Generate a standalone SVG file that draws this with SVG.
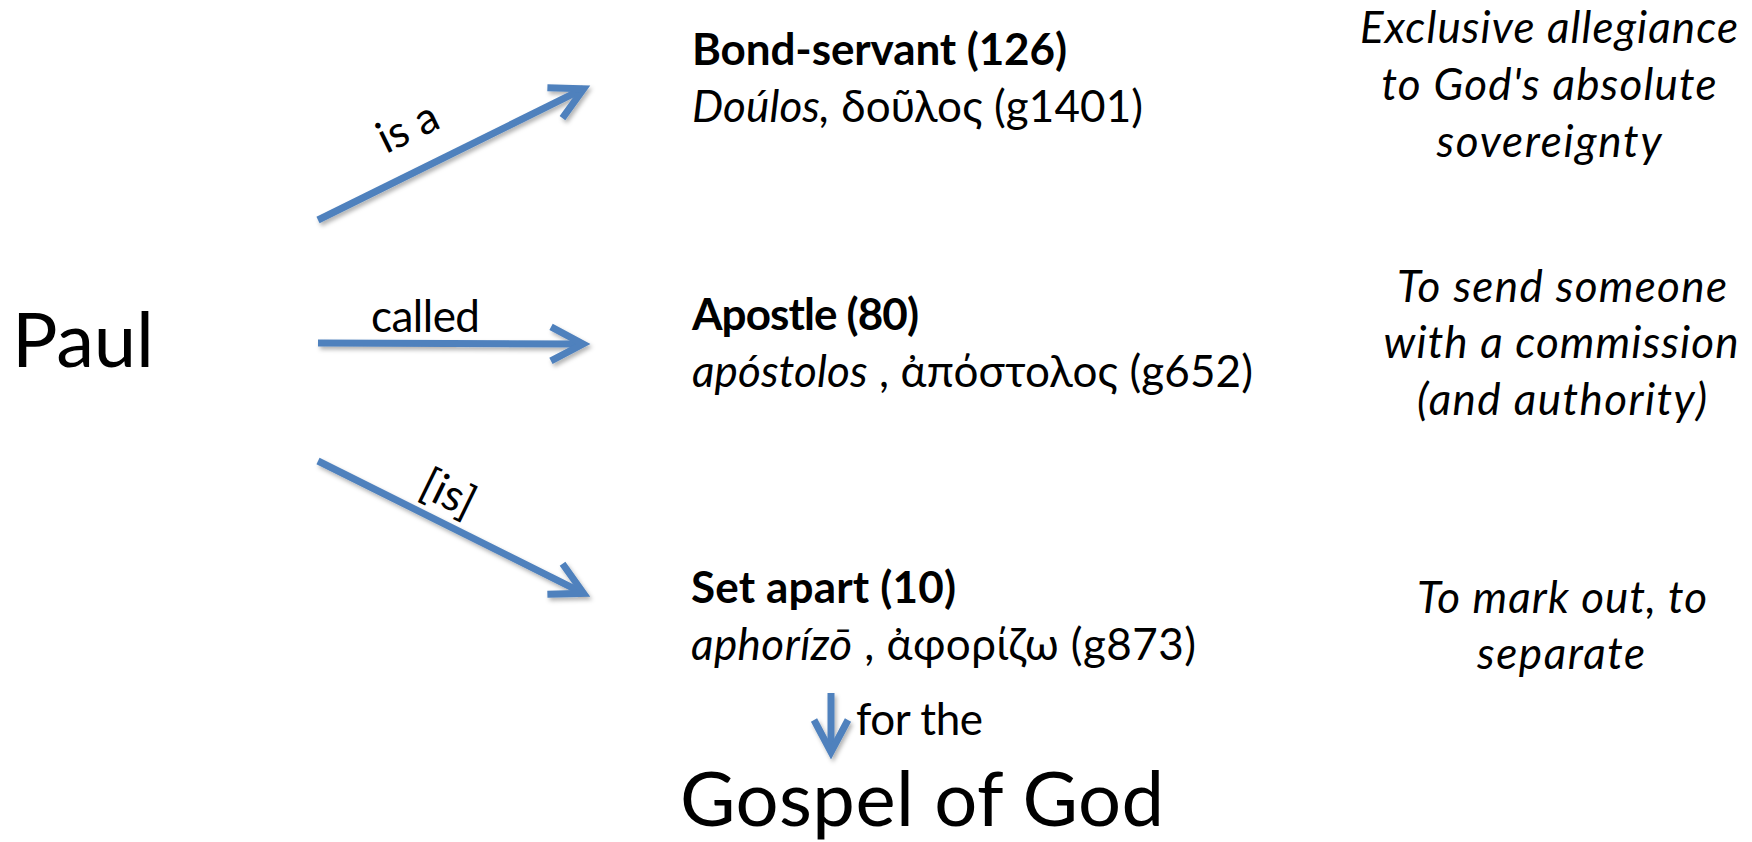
<svg xmlns="http://www.w3.org/2000/svg" width="1752" height="842" viewBox="0 0 1752 842">
  <style>
    text { font-family: Lato, "Noto Sans", "DejaVu Sans", sans-serif; fill: #000; }
    .big { font-size: 76px; }
    .mid { font-size: 44px; }
    .b { font-weight: bold; }
    .i { font-style: italic; }
    .def { font-size: 44px; font-style: italic; text-anchor: middle; }
    .arrow { fill: none; stroke: #4F81BD; stroke-width: 7; stroke-linecap: butt; marker-end: url(#open); }
  </style>
  <defs>
    <marker id="open" markerUnits="userSpaceOnUse" orient="auto" refX="0" refY="0" markerWidth="60" markerHeight="60" viewBox="-40 -30 60 60" overflow="visible">
      <path d="M -32 -17 L 0 0 L -32 17" fill="none" stroke="#4F81BD" stroke-width="7" stroke-linejoin="miter" stroke-miterlimit="10"/>
    </marker>
    <filter id="shadow" x="-20%" y="-20%" width="140%" height="140%">
      <feDropShadow dx="2" dy="3" stdDeviation="2" flood-color="#000" flood-opacity="0.3"/>
    </filter>
  </defs>
  <rect width="1752" height="842" fill="#fff"/>

  <g id="connectors" filter="url(#shadow)">
    <g id="edge-isa">
      <path class="arrow" d="M 318 220 L 583.6 88.7"/>
    </g>
    <g id="edge-called">
      <path class="arrow" d="M 318 343 L 583 344"/>
    </g>
    <g id="edge-is">
      <path class="arrow" d="M 318 461 L 583.6 593.3"/>
    </g>
    <g id="edge-for">
      <path class="arrow" d="M 831 693 L 831 752"/>
    </g>
  </g>
  <g id="edge-labels">
    <text class="mid" transform="translate(408 128) rotate(-26)" x="0" y="14" text-anchor="middle">is a</text>
    <text class="mid" x="371" y="332" textLength="109">called</text>
    <text class="mid" transform="translate(448 494) rotate(26)" x="0" y="14" text-anchor="middle">[is]</text>
    <text class="mid" x="856" y="735" textLength="127">for the</text>
  </g>

  <g id="node-paul">
    <text class="big" x="12" y="367" textLength="142">Paul</text>
  </g>

  <g id="node-bond">
    <text class="mid b" x="692" y="65" textLength="375">Bond-servant (126)</text>
    <text class="mid" x="692" y="122" textLength="451"><tspan class="i">Doúlos,</tspan> δοῦλος (g1401)</text>
  </g>

  <g id="node-apostle">
    <text class="mid b" x="692" y="330" textLength="227">Apostle (80)</text>
    <text class="mid" x="692" y="387" textLength="561"><tspan class="i">apóstolos</tspan> , ἀπόστολος (g652)</text>
  </g>

  <g id="node-setapart">
    <text class="mid b" x="691" y="603" textLength="265">Set apart (10)</text>
    <text class="mid" x="691" y="660" textLength="505"><tspan class="i">aphorízō</tspan> , ἀφορίζω (g873)</text>
  </g>

  <g id="node-gospel">
    <text class="big" x="680" y="826" textLength="484">Gospel of God</text>
  </g>

  <g id="def-bond">
    <text class="def" x="1549" y="43" textLength="378">Exclusive allegiance</text>
    <text class="def" x="1549" y="100" textLength="335">to God's absolute</text>
    <text class="def" x="1549" y="157" textLength="225">sovereignty</text>
  </g>

  <g id="def-apostle">
    <text class="def" x="1562" y="302" textLength="330">To send someone</text>
    <text class="def" x="1561" y="358" textLength="355">with a commission</text>
    <text class="def" x="1562" y="415" textLength="290">(and authority)</text>
  </g>

  <g id="def-setapart">
    <text class="def" x="1562" y="613" textLength="290">To mark out, to</text>
    <text class="def" x="1561" y="669" textLength="168">separate</text>
  </g>
</svg>
